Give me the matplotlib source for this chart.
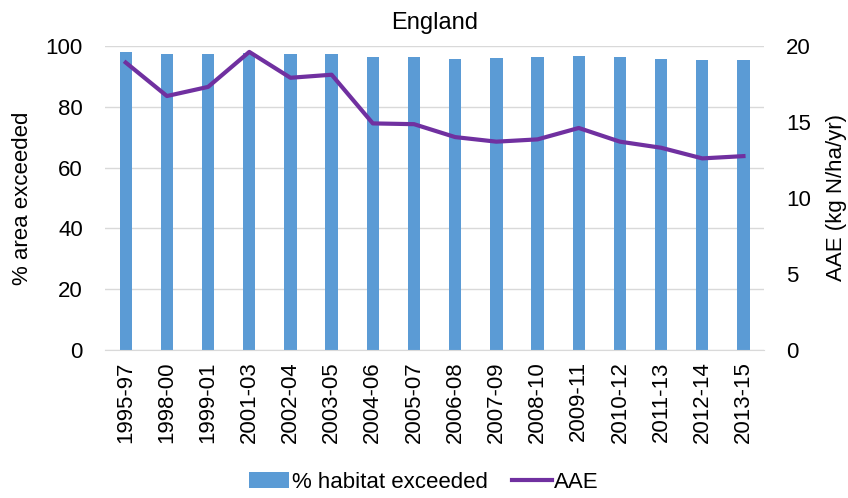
import matplotlib
matplotlib.use("Agg")
import matplotlib.pyplot as plt
import numpy as np

plt.rcParams['font.family'] = ['Liberation Sans', 'DejaVu Sans']

periods = ["1995-97", "1998-00", "1999-01", "2001-03", "2002-04", "2003-05",
           "2004-06", "2005-07", "2006-08", "2007-09", "2008-10", "2009-11",
           "2010-12", "2011-13", "2012-14", "2013-15"]
pct_exceeded = [97.9, 97.3, 97.4, 97.5, 97.3, 97.2, 96.3, 96.2, 95.7, 96.0,
                96.2, 96.6, 96.2, 95.6, 95.5, 95.4]
aae = [18.9, 16.7, 17.3, 19.6, 17.9, 18.1, 14.9, 14.85, 14.0, 13.7,
       13.85, 14.6, 13.7, 13.3, 12.6, 12.75]

x = np.arange(len(periods))

fig = plt.figure(figsize=(8.48, 4.98), dpi=100)
ax = fig.add_axes([0.124, 0.297, 0.777, 0.611])
ax2 = ax.twinx()

ax.bar(x, pct_exceeded, width=0.3, color='#5B9BD5', label='% habitat exceeded', zorder=2)
ax2.plot(x, aae, color='#7030A0', linewidth=3, label='AAE', zorder=3)

ax.set_ylim(0, 100)
ax.set_yticks(range(0, 101, 20))
ax2.set_ylim(0, 20)
ax2.set_yticks(range(0, 21, 5))
ax.set_xlim(-0.5, len(periods) - 0.5)
ax.set_xticks(x)
ax.set_xticklabels(periods, rotation=90)
ax.yaxis.grid(True, color='#D9D9D9', linewidth=1, zorder=0)
ax.set_axisbelow(True)

for a in (ax, ax2):
    for s in ['top', 'left', 'right']:
        a.spines[s].set_visible(False)
    a.spines['bottom'].set_color('#D9D9D9')
    a.tick_params(axis='both', length=0, labelsize=16, colors='#000000')
ax.tick_params(axis='x', pad=8)
ax.tick_params(axis='y', pad=16)
ax2.tick_params(axis='y', pad=16)
ax2.spines['bottom'].set_visible(False)

ax.set_ylabel('% area exceeded', fontsize=16, labelpad=9)
ax2.set_ylabel('AAE (kg N/ha/yr)', fontsize=16, labelpad=11)
ax.set_title('England', fontsize=17, pad=12)

h1, l1 = ax.get_legend_handles_labels()
h2, l2 = ax2.get_legend_handles_labels()
fig.legend(h1 + h2, l1 + l2, loc='lower center', ncol=2, frameon=False,
           fontsize=16, bbox_to_anchor=(0.5, -0.03), handlelength=1.8,
           handletextpad=0.1, columnspacing=1.1)

fig.savefig('out.png', dpi=100)
